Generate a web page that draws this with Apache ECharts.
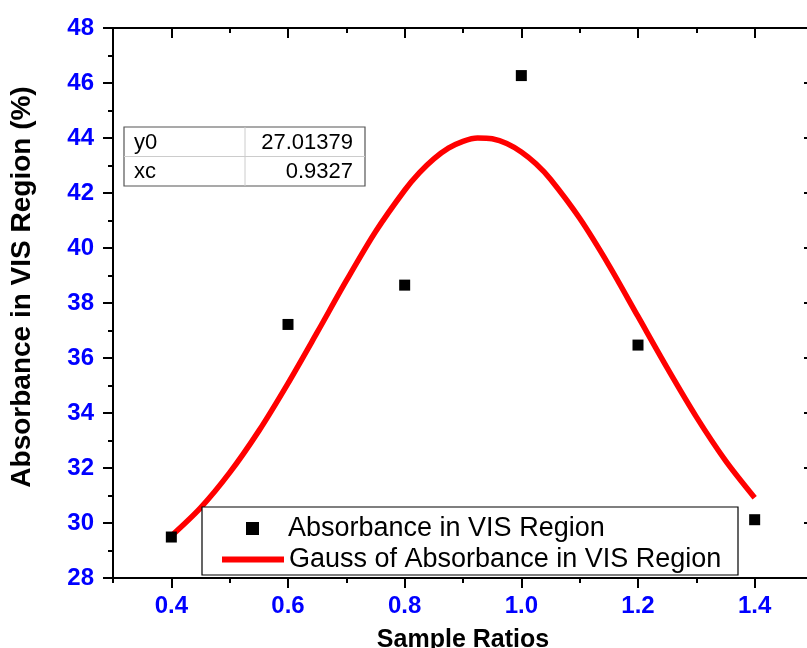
<!DOCTYPE html>
<html>
<head>
<meta charset="utf-8">
<script src="https://cdn.jsdelivr.net/npm/echarts@6/dist/echarts.min.js"></script>
<style>html,body{margin:0;padding:0;background:#fff;}#c{width:807px;height:648px;}</style>
</head>
<body>
<div id="c"></div>
<script>
// Measured points
var sampleRatios = [0.4, 0.6, 0.8, 1.0, 1.2, 1.4];
var absorbance = [29.49, 37.22, 38.65, 46.27, 36.47, 30.12];
// Gauss fit curve
var fitX = [0.40, 0.45, 0.50, 0.55, 0.60, 0.65, 0.70, 0.75, 0.80, 0.825, 0.85, 0.875, 0.90, 0.925, 0.95, 0.975, 1.00, 1.025, 1.05, 1.10, 1.15, 1.20, 1.25, 1.30, 1.35, 1.40];
var fitY = [29.53, 30.55, 31.83, 33.35, 35.08, 36.93, 38.81, 40.59, 42.10, 42.73, 43.24, 43.63, 43.88, 44.00, 43.97, 43.80, 43.49, 43.06, 42.50, 41.08, 39.38, 37.51, 35.64, 33.86, 32.27, 30.92];
var xTickLabels = [0.4, 0.6, 0.8, 1.0, 1.2, 1.4];
var tableNames = ['y0', 'xc'];
var tableValues = ['27.01379', '0.9327'];
var seriesNames = ['Absorbance in VIS Region', 'Gauss of Absorbance in VIS Region'];

var chart = echarts.init(document.getElementById('c'), null, {renderer: 'canvas'});
var blue = '#0000ff';
var axisLine = {show: true, onZero: false, lineStyle: {color: '#000', width: 2}};
var gL = 113, gT = 28, gW = 700, gH = 550;

var scatterData = sampleRatios.map(function (x, i) { return [x, absorbance[i]]; });
var fitData = fitX.map(function (x, i) { return [x, fitY[i]]; });

var tableGraphics = [];
var tx = 124, ty = 127, tw = 241, rh = 29.5, colX = 245;
var tFont = '22px "Liberation Sans", Arial, sans-serif';
tableGraphics.push({type: 'rect', shape: {x: tx, y: ty, width: tw, height: rh * 2}, style: {fill: '#fff', stroke: '#555', lineWidth: 1.2}, z: 10});
tableGraphics.push({type: 'line', shape: {x1: tx, y1: ty + rh, x2: tx + tw, y2: ty + rh}, style: {stroke: '#ccc', lineWidth: 1}, z: 11});
tableGraphics.push({type: 'line', shape: {x1: colX, y1: ty, x2: colX, y2: ty + rh * 2}, style: {stroke: '#ccc', lineWidth: 1}, z: 11});
tableNames.forEach(function (n, i) {
  tableGraphics.push({type: 'text', x: tx + 10, y: ty + rh * i + rh / 2 + 1, style: {text: n, font: tFont, fill: '#000', textAlign: 'left', textVerticalAlign: 'middle'}, z: 12});
  tableGraphics.push({type: 'text', x: tx + tw - 12, y: ty + rh * i + rh / 2 + 1, style: {text: tableValues[i], font: tFont, fill: '#000', textAlign: 'right', textVerticalAlign: 'middle'}, z: 12});
});

var option = {
  animation: false,
  backgroundColor: '#fff',
  grid: {left: gL, top: gT, width: gW, height: gH, containLabel: false, outerBoundsMode: 'none'},
  xAxis: [
    {
      type: 'value', position: 'bottom', min: 0.3, max: 1.5,
      name: 'Sample Ratios', nameLocation: 'middle', nameGap: 50, nameMoveOverlap: false,
      nameTextStyle: {fontFamily: '"Liberation Sans", Arial', fontWeight: 'bold', fontSize: 25, color: '#000'},
      axisLine: axisLine,
      axisTick: {show: true, inside: false, length: 10, lineStyle: {width: 2, color: '#000'}, customValues: xTickLabels},
      axisLabel: {show: true, margin: 16, customValues: xTickLabels, color: blue, fontFamily: '"Liberation Sans", Arial', fontWeight: 'bold', fontSize: 24,
        formatter: function (v) { return v.toFixed(1); }},
      splitLine: {show: false}
    },
    {
      type: 'value', position: 'bottom', min: 0.3, max: 1.5, interval: 0.1,
      axisLine: {show: false},
      axisTick: {show: true, inside: false, length: 5, lineStyle: {width: 2, color: '#000'}},
      axisLabel: {show: false}, splitLine: {show: false}
    },
    {
      type: 'value', position: 'top', min: 0.3, max: 1.5,
      axisLine: axisLine,
      axisTick: {show: true, inside: true, length: 10, lineStyle: {width: 2, color: '#000'}, customValues: xTickLabels},
      axisLabel: {show: false}, splitLine: {show: false}
    },
    {
      type: 'value', position: 'top', min: 0.3, max: 1.5, interval: 0.1,
      axisLine: {show: false},
      axisTick: {show: true, inside: true, length: 5, lineStyle: {width: 2, color: '#000'}},
      axisLabel: {show: false}, splitLine: {show: false}
    }
  ],
  yAxis: [
    {
      type: 'value', position: 'left', min: 28, max: 48, interval: 2,
      name: 'Absorbance in VIS Region (%)', nameLocation: 'middle', nameGap: 77,
      nameTextStyle: {fontFamily: '"Liberation Sans", Arial', fontWeight: 'bold', fontSize: 28, color: '#000', padding: [0, 0, 0, 32]},
      axisLine: axisLine,
      axisTick: {show: true, inside: false, length: 10, lineStyle: {width: 2, color: '#000'}},
      minorTick: {show: true, splitNumber: 2, length: 5, lineStyle: {width: 2, color: '#000'}},
      axisLabel: {margin: 19, color: blue, fontFamily: '"Liberation Sans", Arial', fontWeight: 'bold', fontSize: 24},
      splitLine: {show: false}
    },
    {
      type: 'value', position: 'right', min: 28, max: 48, interval: 2,
      axisLine: axisLine,
      axisTick: {show: true, inside: true, length: 9, lineStyle: {width: 2, color: '#000'}},
      minorTick: {show: true, splitNumber: 2, length: 5, lineStyle: {width: 2, color: '#000'}},
      axisLabel: {show: false}, splitLine: {show: false}
    }
  ],
  legend: [
    {
      data: [{name: seriesNames[0], icon: 'rect'}],
      left: 246, top: 515, orient: 'vertical', padding: 0,
      itemWidth: 13, itemHeight: 13, selectedMode: false,
      itemStyle: {color: '#000', opacity: 1},
      textStyle: {fontFamily: '"Liberation Sans", Arial', fontSize: 27, color: '#000', padding: [0, 0, 0, 24], lineHeight: 26}
    },
    {
      data: [{name: seriesNames[1], icon: 'rect'}],
      left: 222, top: 546, orient: 'vertical', padding: 0,
      itemWidth: 62, itemHeight: 6, selectedMode: false,
      itemStyle: {color: '#ff0000'},
      textStyle: {fontFamily: '"Liberation Sans", Arial', fontSize: 27, color: '#000', lineHeight: 26}
    }
  ],
  graphic: [
    {type: 'rect', shape: {x: 202, y: 507, width: 536, height: 68}, style: {fill: '#fff', stroke: '#000', lineWidth: 1.2}, z: 3}
  ].concat(tableGraphics),
  series: [
    {
      name: seriesNames[0], type: 'scatter', xAxisIndex: 0, yAxisIndex: 0,
      symbol: 'rect', symbolSize: 11, itemStyle: {color: '#000', opacity: 1},
      data: scatterData, z: 2
    },
    {
      name: seriesNames[1], type: 'line', xAxisIndex: 0, yAxisIndex: 0,
      symbol: 'none', smooth: 0.3, lineStyle: {color: '#ff0000', width: 5.5}, itemStyle: {color: '#ff0000'},
      data: fitData, z: 1
    }
  ]
};
chart.setOption(option);
</script>
</body>
</html>
